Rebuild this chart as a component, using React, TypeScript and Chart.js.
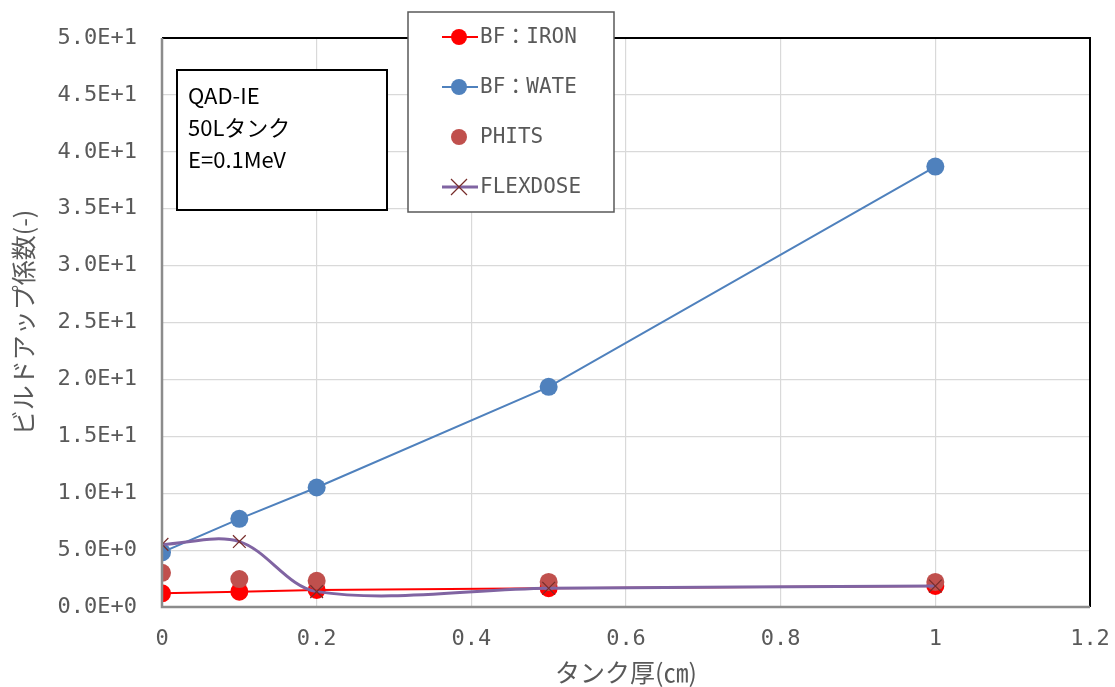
import React, { useEffect, useRef } from "react";
import { Chart, registerables } from "chart.js";

Chart.register(...registerables);

// Tank thickness (cm)
const thickness = [0, 0.1, 0.2, 0.5, 1];
// Build-up factors per method
const bfIron = [1.2, 1.35, 1.5, 1.65, 1.85];
const bfWater = [4.8, 7.75, 10.5, 19.35, 38.7];
const phits = [3.0, 2.45, 2.3, 2.2, 2.2];
const flexdose = [5.5, 5.75, 1.35, 1.65, 1.85];

const xTicks = [0, 0.2, 0.4, 0.6, 0.8, 1.0, 1.2];
const xTickLabels = ["0", "0.2", "0.4", "0.6", "0.8", "1", "1.2"];

const seriesNames = ["BF：IRON", "BF：WATE", "PHITS", "FLEXDOSE"];
const noteLines = ["QAD-IE", "50Lタンク", "E=0.1MeV"];

const GRAY_TEXT = "#595959";
const MONO = "'DejaVu Sans Mono', 'Noto Sans CJK JP', monospace";
const CJK = "'Noto Sans CJK JP', sans-serif";

const toPoints = (ys: number[]) => thickness.map((x, i) => ({ x, y: ys[i] }));

// Frame, annotation text box and legend box drawn onto the canvas
const overlayPlugin = {
  id: "overlay",
  afterDatasetsDraw(chart: any) {
    const { ctx, chartArea: a } = chart;
    ctx.save();
    // top / right frame
    ctx.strokeStyle = "#000";
    ctx.lineWidth = 2;
    ctx.beginPath();
    ctx.moveTo(a.left, a.top);
    ctx.lineTo(a.right, a.top);
    ctx.lineTo(a.right, a.bottom);
    ctx.stroke();
    // left / bottom axis lines
    ctx.strokeStyle = "#8c8c8c";
    ctx.lineWidth = 2.5;
    ctx.beginPath();
    ctx.moveTo(a.left, a.top);
    ctx.lineTo(a.left, a.bottom);
    ctx.lineTo(a.right, a.bottom);
    ctx.stroke();
    ctx.restore();
  },
  afterDraw(chart: any) {
    const { ctx } = chart;
    ctx.save();
    // annotation box
    ctx.fillStyle = "#fff";
    ctx.fillRect(177, 70, 210, 140);
    ctx.strokeStyle = "#000";
    ctx.lineWidth = 2;
    ctx.strokeRect(177, 70, 210, 140);
    ctx.fillStyle = "#000";
    ctx.font = `22px ${CJK}`;
    ctx.textBaseline = "middle";
    ctx.textAlign = "left";
    noteLines.forEach((t, i) => ctx.fillText(t, 188, 96 + i * 32));

    // legend box
    ctx.fillStyle = "#fff";
    ctx.fillRect(408, 12, 206, 200);
    ctx.strokeStyle = "#595959";
    ctx.lineWidth = 1.5;
    ctx.strokeRect(408, 12, 206, 200);
    const ys = [37, 87, 137, 187];
    const x0 = 442, x1 = 478, xm = 459;
    ctx.font = `21px ${MONO}`;
    seriesNames.forEach((name, i) => {
      const y = ys[i];
      if (i === 0 || i === 1) {
        const col = i === 0 ? "#ff0000" : "#4f81bd";
        ctx.strokeStyle = col;
        ctx.lineWidth = 2;
        ctx.beginPath();
        ctx.moveTo(x0, y);
        ctx.lineTo(x1, y);
        ctx.stroke();
        ctx.fillStyle = col;
        ctx.beginPath();
        ctx.arc(xm, y, 8, 0, Math.PI * 2);
        ctx.fill();
      } else if (i === 2) {
        ctx.fillStyle = "#c0504d";
        ctx.beginPath();
        ctx.arc(xm, y, 8, 0, Math.PI * 2);
        ctx.fill();
      } else {
        ctx.strokeStyle = "#8064a2";
        ctx.lineWidth = 3;
        ctx.beginPath();
        ctx.moveTo(x0, y);
        ctx.lineTo(x1, y);
        ctx.stroke();
        ctx.strokeStyle = "#772c2a";
        ctx.lineWidth = 1.2;
        ctx.beginPath();
        ctx.moveTo(xm - 8, y - 8);
        ctx.lineTo(xm + 8, y + 8);
        ctx.moveTo(xm + 8, y - 8);
        ctx.lineTo(xm - 8, y + 8);
        ctx.stroke();
      }
      ctx.fillStyle = GRAY_TEXT;
      ctx.textAlign = "left";
      ctx.textBaseline = "middle";
      ctx.fillText(name, 480, y + 1);
    });
    ctx.restore();
  },
};

export default function App() {
  const ref = useRef<HTMLCanvasElement>(null);

  useEffect(() => {
    document.body.style.margin = "0";
    const chart = new Chart(ref.current!, {
      type: "scatter",
      data: {
        datasets: [
          {
            label: seriesNames[0],
            data: toPoints(bfIron),
            showLine: true,
            borderColor: "#ff0000",
            backgroundColor: "#ff0000",
            borderWidth: 2,
            pointRadius: 9,
            pointBorderWidth: 0,
            order: 4,
          },
          {
            label: seriesNames[1],
            data: toPoints(bfWater),
            showLine: true,
            borderColor: "#4f81bd",
            backgroundColor: "#4f81bd",
            borderWidth: 2,
            pointRadius: 9,
            pointBorderWidth: 0,
            order: 3,
          },
          {
            label: seriesNames[2],
            data: toPoints(phits),
            showLine: false,
            borderColor: "#c0504d",
            backgroundColor: "#c0504d",
            pointRadius: 9,
            pointBorderWidth: 0,
            order: 2,
          },
          {
            label: seriesNames[3],
            data: toPoints(flexdose),
            showLine: true,
            tension: 0.33,
            borderColor: "#8064a2",
            borderWidth: 3,
            pointStyle: "crossRot",
            pointRadius: 9,
            pointBorderColor: "#772c2a",
            pointBackgroundColor: "#772c2a",
            pointBorderWidth: 1.2,
            order: 1,
          },
        ],
      },
      options: {
        animation: false,
        responsive: false,
        layout: { padding: { left: 0, right: 25, top: 38, bottom: 0 } },
        plugins: {
          legend: { display: false },
          tooltip: { enabled: false },
        },
        scales: {
          x: {
            type: "linear",
            min: 0,
            max: 1.2,
            afterBuildTicks: (s: any) => {
              s.ticks = xTicks.map((v) => ({ value: v }));
            },
            afterFit: (s: any) => {
              s.height = 80;
              s.paddingLeft = 0;
              s.paddingRight = 0;
            },
            border: { display: false },
            grid: { color: "#d9d9d9", lineWidth: 1.2, drawTicks: false },
            ticks: {
              padding: 19,
              color: GRAY_TEXT,
              font: { family: MONO, size: 22 },
              maxRotation: 0,
              callback: (v: any) => {
                const i = xTicks.findIndex((t) => Math.abs(t - Number(v)) < 1e-9);
                return i >= 0 ? xTickLabels[i] : "";
              },
            },
            title: {
              display: true,
              text: "タンク厚(㎝)",
              color: GRAY_TEXT,
              font: { family: CJK, size: 25 },
              padding: { top: 0, bottom: 0 },
            },
          },
          y: {
            min: 0,
            max: 50,
            afterFit: (s: any) => {
              s.width = 162;
              s.paddingTop = 0;
              s.paddingBottom = 0;
            },
            border: { display: false },
            grid: { color: "#d9d9d9", lineWidth: 1.2, drawTicks: false },
            ticks: {
              stepSize: 5,
              padding: 25,
              color: GRAY_TEXT,
              font: { family: MONO, size: 22 },
              callback: (v: any) => Number(v).toExponential(1).toUpperCase(),
            },
            title: {
              display: true,
              text: "ビルドアップ係数(-)",
              color: GRAY_TEXT,
              font: { family: CJK, size: 25 },
              padding: { top: 8, bottom: 0 },
            },
          },
        },
      },
      plugins: [overlayPlugin],
    });
    return () => chart.destroy();
  }, []);

  return <canvas ref={ref} width={1115} height={687} style={{ display: "block" }} />;
}
